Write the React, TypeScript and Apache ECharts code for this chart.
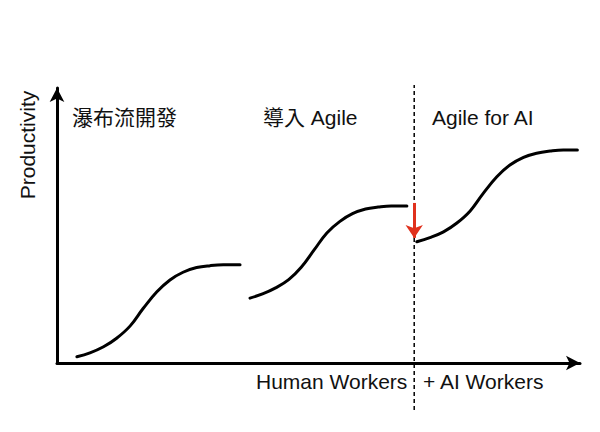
import React, { useEffect, useRef } from "react";
import * as echarts from "echarts";

// Three S-curves (x: Human/AI workers 0-100, y: productivity 0-100)
const waterfallX = [3.8, 6.3, 8.9, 11.4, 14.0, 16.5, 19.1, 21.6, 24.1, 26.7, 29.3, 31.8, 35.0];
const waterfallY = [2.3, 3.7, 5.9, 9.0, 13.5, 19.9, 25.9, 30.2, 33.0, 34.7, 35.4, 35.7, 35.7];
const agileX = [36.9, 39.3, 41.8, 44.3, 46.7, 49.2, 51.6, 54.1, 56.5, 59.0, 61.4, 63.9, 66.9];
const agileY = [23.6, 25.1, 27.3, 30.3, 34.8, 41.2, 47.3, 51.5, 54.3, 56.0, 56.7, 57.1, 57.1];
const agileAIX = [68.8, 71.3, 73.9, 76.4, 79.0, 81.5, 84.1, 86.6, 89.2, 91.7, 94.3, 96.8, 99.5];
const agileAIY = [44.1, 45.6, 47.7, 50.8, 55.3, 61.7, 67.7, 72.0, 74.8, 76.3, 77.1, 77.5, 77.5];

const dividerX = 68.3;
const dividerYRange = [-17.1, 101.1];
const dropFrom = 58.2;
const dropTo = 45.5;

const phaseLabels = ["瀑布流開發", "導入 Agile", "Agile for AI"];
const xLabels = ["Human Workers", "+ AI Workers"];
const yLabel = "Productivity";

const zip = (xs: number[], ys: number[]) => xs.map((x, i) => [x, ys[i]]);

const LATIN = "'Liberation Sans', Arial, sans-serif";
const CJK = "'Liberation Sans', 'Noto Sans CJK TC', sans-serif";

export default function App() {
  const ref = useRef<HTMLDivElement>(null);
  useEffect(() => {
    if (!ref.current) return;
    document.body.style.margin = "0";
    const chart = echarts.init(ref.current, undefined, { renderer: "svg" });
    const curve = (name: string, xs: number[], ys: number[]) => ({
      name,
      type: "line",
      data: zip(xs, ys),
      smooth: 0.4,
      showSymbol: false,
      symbol: "none",
      lineStyle: { color: "#000", width: 3, cap: "round" },
      silent: true,
    });
    chart.setOption({
      animation: false,
      backgroundColor: "#fff",
      grid: { left: 57, right: 20, top: 88, bottom: 69 },
      xAxis: {
        type: "value",
        min: 0,
        max: 100,
        axisLine: {
          show: true,
          onZero: false,
          symbol: ["none", "arrow"],
          symbolSize: [11, 14],
          lineStyle: { color: "#000", width: 3 },
        },
        axisTick: { show: false },
        axisLabel: { show: false },
        splitLine: { show: false },
      },
      yAxis: {
        type: "value",
        min: 0,
        max: 100,
        axisLine: {
          show: true,
          onZero: false,
          symbol: ["none", "arrow"],
          symbolSize: [11, 14],
          lineStyle: { color: "#000", width: 3 },
        },
        axisTick: { show: false },
        axisLabel: { show: false },
        splitLine: { show: false },
      },
      series: [
        curve(phaseLabels[0], waterfallX, waterfallY),
        curve(phaseLabels[1], agileX, agileY),
        curve(phaseLabels[2], agileAIX, agileAIY),
        {
          name: "divider",
          type: "line",
          clip: false,
          silent: true,
          symbol: "none",
          data: [
            [dividerX, dividerYRange[0]],
            [dividerX, dividerYRange[1]],
          ],
          lineStyle: { color: "#000", width: 1.5, type: [4, 3] },
          z: 1,
        },
        {
          name: "drop",
          type: "line",
          data: [],
          silent: true,
          markLine: {
            silent: true,
            animation: false,
            symbol: ["none", "arrow"],
            symbolSize: [13, 13],
            label: { show: false },
            lineStyle: { color: "#e0311d", width: 3, type: "solid" },
            data: [[{ coord: [dividerX, dropFrom] }, { coord: [dividerX, dropTo] }]],
          },
          z: 5,
        },
      ],
      graphic: [
        {
          type: "text",
          x: 72,
          y: 117,
          style: { text: phaseLabels[0], font: `21px ${CJK}`, fill: "#111", verticalAlign: "middle" },
        },
        {
          type: "text",
          x: 263,
          y: 117,
          style: { text: phaseLabels[1], font: `21px ${CJK}`, fill: "#111", verticalAlign: "middle" },
        },
        {
          type: "text",
          x: 432,
          y: 117,
          style: { text: phaseLabels[2], font: `21px ${LATIN}`, fill: "#111", verticalAlign: "middle" },
        },
        {
          type: "text",
          x: 256,
          y: 381,
          style: { text: xLabels[0], font: `21px ${LATIN}`, fill: "#111", verticalAlign: "middle" },
        },
        {
          type: "text",
          x: 423,
          y: 381,
          style: { text: xLabels[1], font: `21px ${LATIN}`, fill: "#111", verticalAlign: "middle" },
        },
        {
          type: "text",
          x: 27,
          y: 145,
          rotation: Math.PI / 2,
          style: {
            text: yLabel,
            font: `21px ${LATIN}`,
            fill: "#111",
            align: "center",
            verticalAlign: "middle",
          },
        },
      ],
    });
    return () => chart.dispose();
  }, []);
  return <div ref={ref} style={{ width: 600, height: 432 }} />;
}
